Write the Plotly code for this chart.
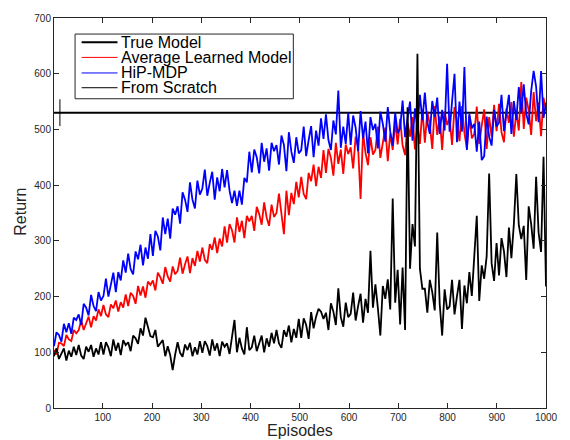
import numpy as np
import plotly.graph_objects as go

# ---------------- data ----------------
episodes = np.linspace(1, 1000, 200)

true_model_return = 530
true_model_err = 24
true_model_err_episode = 13

hip_mdp = [
    111, 136, 131, 119, 151, 136, 152, 133, 162, 158,
    168, 149, 187, 180, 166, 203, 183, 174, 208, 193,
    201, 232, 200, 222, 243, 208, 244, 229, 265, 243,
    277, 249, 240, 281, 267, 293, 256, 288, 268, 312,
    273, 318, 308, 283, 342, 312, 340, 304, 358, 347,
    362, 331, 387, 374, 352, 405, 374, 358, 408, 383,
    394, 428, 381, 404, 424, 374, 414, 389, 429, 396,
    427, 390, 368, 390, 363, 390, 365, 413, 405, 460,
    423, 464, 450, 421, 476, 442, 466, 426, 476, 461,
    472, 437, 489, 472, 425, 495, 460, 440, 486, 457,
    463, 505, 452, 481, 506, 450, 498, 471, 520, 483,
    527, 481, 463, 516, 491, 570, 467, 505, 474, 530,
    472, 525, 503, 461, 533, 484, 514, 457, 522, 499,
    510, 466, 532, 510, 478, 540, 496, 471, 530, 493,
    502, 552, 486, 520, 550, 480, 538, 504, 562, 516,
    566, 513, 492, 551, 522, 557, 492, 535, 498, 618,
    496, 550, 600, 477, 550, 496, 612, 463, 528, 502,
    510, 460, 514, 445, 452, 523, 487, 471, 535, 505,
    512, 562, 497, 531, 562, 492, 551, 517, 576, 530,
    581, 529, 509, 569, 605, 577, 513, 605, 521, 548,
]

avg_learned = [
    104, 96, 117, 116, 111, 131, 123, 120, 140, 134,
    140, 157, 140, 152, 164, 145, 165, 157, 177, 165,
    185, 168, 163, 186, 179, 193, 173, 190, 180, 204,
    183, 207, 201, 187, 219, 202, 218, 198, 227, 221,
    229, 211, 243, 235, 223, 253, 236, 227, 254, 240,
    246, 270, 241, 258, 272, 242, 269, 255, 282, 263,
    288, 266, 260, 294, 284, 306, 278, 304, 290, 326,
    297, 330, 319, 297, 342, 316, 336, 305, 345, 335,
    345, 318, 361, 348, 329, 369, 342, 327, 365, 343,
    350, 385, 344, 312, 390, 346, 386, 366, 406, 378,
    415, 384, 375, 422, 407, 437, 398, 433, 413, 463,
    422, 465, 449, 417, 476, 438, 464, 420, 473, 456,
    468, 430, 487, 469, 375, 494, 458, 436, 486, 455,
    463, 505, 449, 477, 503, 443, 493, 463, 513, 473,
    519, 471, 454, 512, 487, 522, 464, 506, 474, 536,
    476, 532, 509, 465, 542, 490, 523, 463, 532, 508,
    521, 472, 540, 515, 479, 542, 494, 465, 525, 484,
    492, 541, 474, 507, 536, 465, 522, 487, 544, 497,
    546, 495, 477, 538, 512, 549, 487, 532, 498, 585,
    501, 557, 534, 490, 567, 515, 548, 488, 557, 533,
]

from_scratch = [
    93, 107, 88, 97, 107, 85, 103, 92, 110, 95,
    113, 94, 88, 110, 101, 113, 92, 107, 96, 118,
    96, 118, 109, 93, 123, 103, 117, 95, 122, 113,
    118, 102, 130, 125, 115, 143, 130, 162, 147, 129,
    127, 140, 110, 116, 122, 93, 111, 95, 68, 96,
    118, 99, 92, 114, 104, 117, 93, 109, 96, 120,
    99, 120, 111, 94, 123, 103, 116, 93, 119, 110,
    116, 97, 124, 158, 100, 126, 107, 96, 145, 104,
    109, 130, 102, 117, 130, 100, 125, 110, 135, 116,
    140, 116, 108, 140, 128, 148, 118, 142, 126, 160,
    126, 161, 149, 124, 172, 143, 164, 178, 173, 160,
    171, 140, 188, 173, 149, 215, 163, 146, 189, 163,
    169, 207, 157, 183, 205, 153, 196, 171, 282, 180,
    222, 179, 130, 219, 196, 231, 177, 376, 189, 248,
    150, 252, 140, 540, 250, 330, 290, 636, 250, 214,
    214, 171, 230, 208, 175, 315, 187, 130, 213, 177,
    182, 230, 168, 201, 230, 142, 220, 188, 244, 201,
    285, 345, 192, 256, 232, 272, 421, 260, 228, 296,
    238, 305, 281, 235, 324, 269, 330, 420, 328, 303,
    327, 230, 362, 330, 286, 415, 315, 280, 451, 218,
]

legend_labels = ["True Model", "Average Learned Model", "HiP-MDP", "From Scratch"]
colors = ["#000000", "#FF0000", "#0000FF", "#000000"]

x_ticks = [100, 200, 300, 400, 500, 600, 700, 800, 900, 1000]
y_ticks = [0, 100, 200, 300, 400, 500, 600, 700]

# ---------------- figure ----------------
FONT = "Liberation Sans, Arial, Helvetica, sans-serif"
W, H = 570, 440
L, R, T, B = 53.5, 14.5, 12, 32
pw, ph = W - L - R, H - T - B


def px(xpix):
    return (xpix - L) / pw


def py(ypix):
    return (H - B - ypix) / ph


fig = go.Figure()

fig.add_trace(go.Scatter(
    x=[1, 1000], y=[true_model_return, true_model_return], mode="lines",
    line=dict(color=colors[0], width=2), name=legend_labels[0], showlegend=False))
fig.add_trace(go.Scatter(
    x=[true_model_err_episode], y=[true_model_return], mode="markers",
    marker=dict(size=1, color="rgba(0,0,0,0)"),
    error_y=dict(type="data", array=[true_model_err], color="#000000",
                 thickness=1, width=0),
    showlegend=False, hoverinfo="skip"))
fig.add_trace(go.Scatter(
    x=episodes, y=avg_learned, mode="lines",
    line=dict(color=colors[1], width=1.8), name=legend_labels[1], showlegend=False))
fig.add_trace(go.Scatter(
    x=episodes, y=hip_mdp, mode="lines",
    line=dict(color=colors[2], width=1.8), name=legend_labels[2], showlegend=False))
fig.add_trace(go.Scatter(
    x=episodes, y=from_scratch, mode="lines",
    line=dict(color=colors[3], width=1.8), name=legend_labels[3], showlegend=False))

# manual MATLAB-style legend (tight spacing)
shapes = [dict(type="rect", xref="paper", yref="paper",
               x0=px(75), x1=px(297.7), y0=py(94), y1=py(28.3),
               line=dict(color="#262626", width=1), fillcolor="white", layer="above")]
annotations = []
rows = [36.7, 52.0, 67.8, 82.8]
widths = [2, 1, 1, 1]
for lab, col, yy, lw in zip(legend_labels, colors, rows, widths):
    shapes.append(dict(type="line", xref="paper", yref="paper",
                       x0=px(81.7), x1=px(118.3), y0=py(yy), y1=py(yy),
                       line=dict(color=col, width=lw), layer="above"))
    annotations.append(dict(xref="paper", yref="paper", x=px(120.5), y=py(yy),
                            text=lab, showarrow=False, xanchor="left", yanchor="middle",
                            borderpad=0,
                            font=dict(family=FONT, size=16, color="#000000")))

annotations.append(dict(xref="paper", yref="paper", x=px(18.5), y=py(209),
                        text="Return", textangle=-90, showarrow=False,
                        xanchor="center", yanchor="middle",
                        font=dict(family=FONT, size=16, color="#262626")))
annotations.append(dict(xref="paper", yref="paper", x=px(305), y=py(430.5),
                        text="Episodes", showarrow=False,
                        xanchor="center", yanchor="middle", borderpad=0,
                        font=dict(family=FONT, size=16, color="#262626")))

axis_common = dict(showgrid=False, zeroline=False, showline=True, linecolor="#262626",
                   linewidth=1, mirror="ticks", ticks="inside", ticklen=5,
                   tickcolor="#262626", tickwidth=1,
                   tickfont=dict(family=FONT, size=10, color="#262626"))

fig.update_layout(
    width=W, height=H,
    margin=dict(l=L, r=R, t=T, b=B, pad=0),
    paper_bgcolor="white", plot_bgcolor="white",
    showlegend=False,
    xaxis=dict(range=[1, 1000], tickvals=x_ticks, ticktext=[str(v) for v in x_ticks],
               **axis_common),
    yaxis=dict(range=[0, 700], tickvals=y_ticks, ticktext=[str(v) for v in y_ticks],
               **axis_common),
    shapes=shapes, annotations=annotations,
)

fig.write_html(
    "out.html",
    config={"displayModeBar": False},
    post_script="document.body.style.margin='0';document.body.style.overflow='hidden';",
)
